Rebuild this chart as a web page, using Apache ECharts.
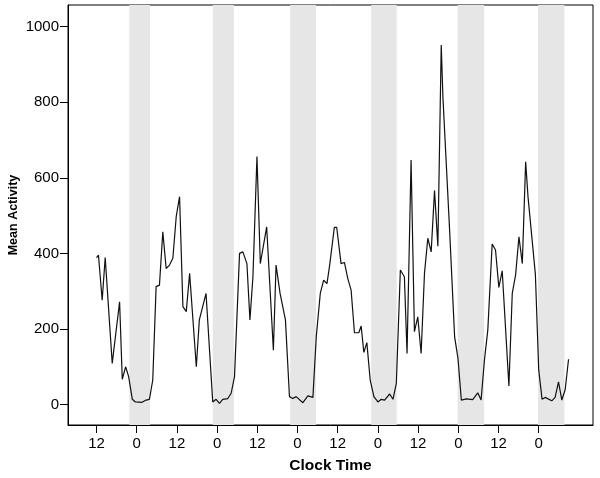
<!DOCTYPE html>
<html>
<head>
<meta charset="utf-8">
<script src="https://cdn.jsdelivr.net/npm/echarts@6/dist/echarts.min.js"></script>
<style>
html,body{margin:0;padding:0;background:#fff;}
#chart{width:600px;height:478px;}
</style>
</head>
<body>
<div id="chart"></div>
<script>
// hours since the first clock-time noon
var hours = [0,0.6,1.7,2.6,4.7,6.9,7.7,8.7,9.6,10.7,11.6,13.6,14.8,15.8,16.8,17.8,18.8,19.8,20.8,
  21.8,22.8,23.8,24.8,25.8,26.8,27.8,29.8,30.7,32.7,34.7,35.7,36.7,37.7,39.2,40.2,41.2,42.7,43.7,44.9,
  45.8,46.7,47.9,48.9,50.8,52.8,53.6,54.8,56.4,57.6,58.6,59.6,61.6,63.1,64.6,65.6,66.8,67.8,68.8,
  69.6,71.0,71.7,73.0,74.0,75.0,76.0,77.0,78.3,79.0,79.8,80.7,81.7,82.8,84.0,85.0,86.0,87.5,88.5,89.5,
  90.7,91.9,92.7,93.9,94.9,95.9,96.9,97.9,98.9,99.9,100.9,101.9,102.9,103.4,105.4,106.9,107.9,108.9,
  110.4,112.3,113.8,114.8,115.8,116.8,118.1,119.1,120.1,121.1,123.1,124.1,125.1,126.1,127.1,128.1,
  128.8,131.0,132.0,133.0,133.9,135.9,136.9,137.9,138.9,139.9,140.9];
var activity = [389,395,276,389,109,272,67,100,74,14,7,6,12,14,65,312,316,457,360,
  369,387,497,550,259,246,347,100,224,294,7,14,3,14,16,30,74,400,404,373,
  224,338,656,373,470,144,369,294,224,21,16,21,5,23,19,179,294,329,320,
  369,469,469,373,376,334,303,190,190,208,138,164,65,21,7,14,12,28,14,56,
  356,338,135,647,193,232,135,347,440,404,566,419,951,814,462,179,122,12,
  15,13,31,12,118,197,425,409,310,354,49,294,343,444,373,642,
  550,345,91,14,19,10,19,60,12,40,120];
// shaded (night) periods, hours
var nightStart = [9.8, 34.7, 57.8, 82.0, 107.8, 131.8];
var nightEnd   = [16.0, 41.0, 65.5, 89.6, 115.7, 139.7];
// x tick positions and labels
var tickHours  = [0,12,24,36,48,60,72,84,96,108,120,132];
var tickLabels = ['12','0','12','0','12','0','12','0','12','0','12','0'];
var yTicks = [0,200,400,600,800,1000];

var lineData = hours.map(function(h, i){ return [h, activity[i]]; });
var bands = nightStart.map(function(s, i){ return [{xAxis: s}, {xAxis: nightEnd[i]}]; });

var chart = echarts.init(document.getElementById('chart'), null, {renderer: 'canvas'});
chart.setOption({
  backgroundColor: '#ffffff',
  animation: false,
  grid: {left: 68, right: 7, top: 5, bottom: 53, containLabel: false, outerBoundsMode: 'none',
    show: true, borderColor: '#000', borderWidth: 1, backgroundColor: 'transparent'},
  xAxis: {
    type: 'value', min: -8.5, max: 148.2,
    name: 'Clock Time', nameLocation: 'middle', nameGap: 33, nameMoveOverlap: false,
    nameTextStyle: {fontFamily: 'Liberation Sans', fontWeight: 'bold', fontSize: 15.5, color: '#000'},
    axisLine: {show: true, onZero: false, lineStyle: {color: '#000', width: 1}},
    axisTick: {show: true, length: 8, lineStyle: {color: '#000'}, customValues: tickHours},
    axisLabel: {margin: 11, fontFamily: 'Liberation Sans', fontSize: 15, color: '#000',
      customValues: tickHours,
      formatter: function(v){ var i = tickHours.indexOf(v); return i >= 0 ? tickLabels[i] : ''; }},
    splitLine: {show: false}
  },
  yAxis: {
    type: 'value', min: -54, max: 1057,
    name: 'Mean Activity', nameLocation: 'middle', nameGap: 48, nameMoveOverlap: false,
    nameTextStyle: {fontFamily: 'Liberation Sans', fontWeight: 'bold', fontSize: 12.5, color: '#000'},
    axisLine: {show: true, onZero: false, lineStyle: {color: '#000', width: 1}},
    axisTick: {show: true, length: 8, lineStyle: {color: '#000'}, customValues: yTicks},
    axisLabel: {margin: 9, fontFamily: 'Liberation Sans', fontSize: 15, color: '#000', customValues: yTicks,
      formatter: function(v){ return String(v); }},
    splitLine: {show: false}
  },
  series: [{
    type: 'line',
    data: lineData,
    symbol: 'none',
    lineStyle: {color: '#111', width: 1.2},
    z: 3,
    markArea: {
      silent: true,
      itemStyle: {color: '#e6e6e6'},
      data: bands
    }
  }]
});
</script>
</body>
</html>
